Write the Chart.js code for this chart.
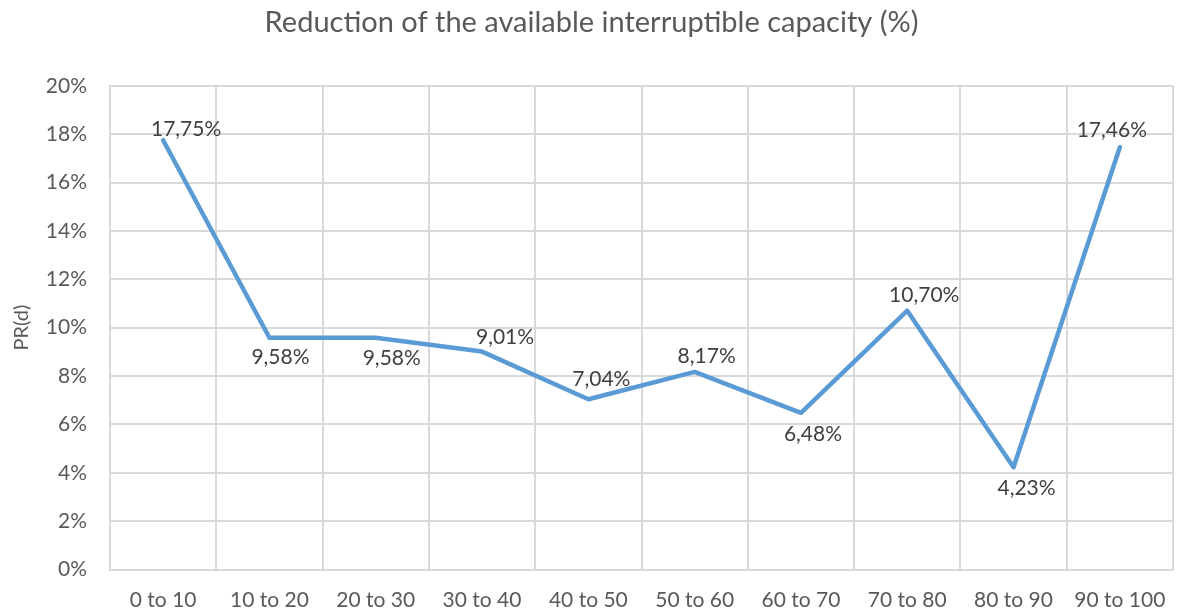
<!DOCTYPE html>
<html><head><meta charset="utf-8">
<script src="https://cdn.jsdelivr.net/npm/chart.js@4.4.0/dist/chart.umd.min.js"></script>
<style>html,body{margin:0;padding:0;background:#fff}#wrap{width:1177px;height:615px}</style>
</head><body><div id="wrap"><canvas id="c" width="1177" height="615"></canvas></div>
<script>
const categories = ["0 to 10","10 to 20","20 to 30","30 to 40","40 to 50","50 to 60","60 to 70","70 to 80","80 to 90","90 to 100"];
const values = [17.75, 9.58, 9.58, 9.01, 7.04, 8.17, 6.48, 10.70, 4.23, 17.46];
const yTicks = [0,2,4,6,8,10,12,14,16,18,20];
const chartTitle = "Reduction of the available interruptible capacity (%)";
const yTitle = "PR(d)";

// label placement (styling): dx, dy in px relative to point
const labelOffsets = [[23,-11],[11,19],[16,20],[23,-14],[13,-20],[12,-16],[12,21],[17,-15],[13,21],[-8,-17]];

const FONT = 'Lato, "Open Sans", sans-serif';

const labelPlugin = {
  id: 'pointLabels',
  afterDatasetsDraw(chart) {
    const ctx = chart.ctx;
    const meta = chart.getDatasetMeta(0);
    ctx.save();
    ctx.font = '21px ' + FONT;
    ctx.fillStyle = '#404040';
    ctx.textAlign = 'center';
    ctx.textBaseline = 'middle';
    meta.data.forEach((pt, i) => {
      const txt = values[i].toFixed(2).replace('.', ',') + '%';
      const o = labelOffsets[i];
      ctx.fillText(txt, pt.x + o[0], pt.y + o[1]);
    });
    ctx.restore();
  }
};

new Chart(document.getElementById('c'), {
  type: 'line',
  data: {
    labels: categories,
    datasets: [{
      data: values,
      borderColor: '#5B9BD5',
      borderWidth: 4.5,
      borderCapStyle: 'round',
      borderJoinStyle: 'round',
      pointRadius: 0,
      tension: 0,
      fill: false
    }]
  },
  options: {
    responsive: false,
    animation: false,
    layout: { padding: { left: 10, right: 4, top: 0, bottom: 0 } },
    plugins: {
      legend: { display: false },
      tooltip: { enabled: false },
      title: {
        display: true,
        text: chartTitle,
        color: '#595959',
        font: { family: FONT, size: 29, weight: 'normal' },
        padding: { top: 5, bottom: 46 }
      }
    },
    scales: {
      x: {
        type: 'category',
        offset: true,
        grid: { offset: true, color: '#d9d9d9', lineWidth: 2, drawTicks: false },
        border: { color: '#d9d9d9', width: 2 },
        ticks: { color: '#595959', font: { family: FONT, size: 21 }, padding: 18, maxRotation: 0, autoSkip: false },
        afterFit(scale) { scale.height = 45.5; scale.paddingLeft = 0; scale.paddingRight = 0; }
      },
      y: {
        min: 0, max: 20,
        afterBuildTicks(scale) { scale.ticks = yTicks.map(v => ({ value: v })); },
        grid: { color: '#d9d9d9', lineWidth: 2, drawTicks: false },
        border: { color: '#d9d9d9', width: 2 },
        ticks: { color: '#595959', font: { family: FONT, size: 21 }, padding: 23, callback: v => v + '%' },
        title: { display: true, text: yTitle, color: '#595959', font: { family: FONT, size: 20 }, padding: { top: 0, bottom: 14 } },
        afterFit(scale) { scale.width = 100; }
      }
    }
  },
  plugins: [labelPlugin]
});
</script></body></html>
